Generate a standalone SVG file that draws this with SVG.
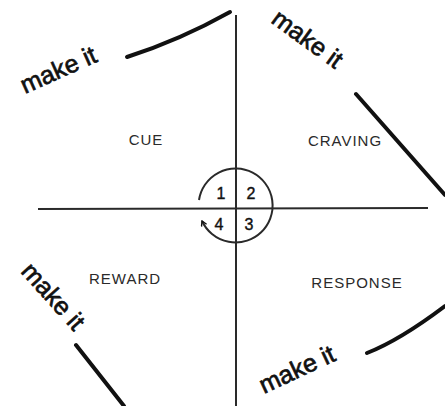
<svg xmlns="http://www.w3.org/2000/svg" width="445" height="406" viewBox="0 0 445 406">
<style>
.axis{stroke:#2a2a2a;stroke-width:2;fill:none}
.mk{stroke:#111;stroke-width:4;fill:none;stroke-linecap:round}
.lbl{font-family:"Liberation Sans",Arial,sans-serif;font-size:15px;fill:#2a2a2a;letter-spacing:1px;text-anchor:middle}
.mt{font-family:"Liberation Sans",Arial,sans-serif;font-size:25px;fill:#111;stroke:#111;stroke-width:0.7}
.num{font-family:"Liberation Sans",Arial,sans-serif;font-size:16px;fill:#111;text-anchor:middle;stroke:#111;stroke-width:0.4}
</style>
<defs>
<marker id="ah" viewBox="0 0 10 10" refX="8" refY="5" markerWidth="7" markerHeight="7" orient="auto" markerUnits="userSpaceOnUse">
<path d="M1,1 L8,5 L1,9" fill="none" stroke="#111" stroke-width="2"/>
</marker>
</defs>
<rect width="445" height="406" fill="#fff"/>
<g id="connectors">
<line class="axis" x1="236" y1="15" x2="236" y2="406"/>
<line class="axis" x1="38" y1="209" x2="428" y2="208"/>
<path class="axis" d="M199,200 A37,37 0 1 1 202,221" marker-end="url(#ah)"/>
<path class="mk" d="M127,57 Q180,40 230,12"/>
<path class="mk" d="M356,94 L445,195"/>
<path class="mk" d="M76,345 L124,406"/>
<path class="mk" d="M367,353 Q400,340 445,306"/>
</g>
<g id="cue"><text class="lbl" x="146" y="145">CUE</text></g>
<g id="craving"><text class="lbl" x="345" y="146">CRAVING</text></g>
<g id="reward"><text class="lbl" x="125" y="284">REWARD</text></g>
<g id="response"><text class="lbl" x="357" y="288">RESPONSE</text></g>
<g id="steps">
<text class="num" x="221" y="199">1</text>
<text class="num" x="251" y="199">2</text>
<text class="num" x="219" y="230">4</text>
<text class="num" x="249" y="230">3</text>
</g>
<g id="make-it-tl"><text class="mt" transform="translate(25,94) rotate(-24)">make it</text></g>
<g id="make-it-tr"><text class="mt" transform="translate(270,22) rotate(36)">make it</text></g>
<g id="make-it-bl"><text class="mt" transform="translate(20,272) rotate(48)">make it</text></g>
<g id="make-it-br"><text class="mt" transform="translate(264,394) rotate(-25)">make it</text></g>
</svg>
